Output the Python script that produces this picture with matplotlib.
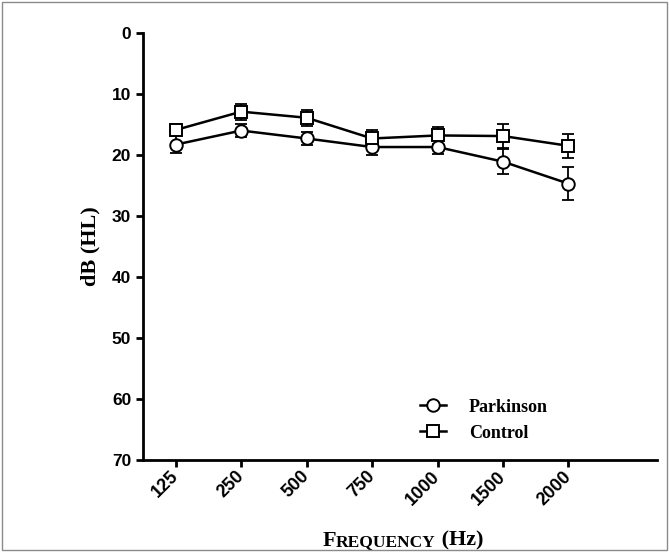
"""
Pure-tone audiometry: mean hearing threshold (dB HL) by frequency,
Parkinson vs Control, with SEM error bars.
"""

import matplotlib
matplotlib.use("Agg")
import matplotlib.pyplot as plt
from matplotlib.patches import Rectangle
from matplotlib.offsetbox import TextArea, HPacker, AnchoredOffsetbox

freq_labels = ["125", "250", "500", "750", "1000", "1500", "2000"]

parkinson_mean = [18.3, 16.0, 17.3, 18.7, 18.7, 21.1, 24.7]
parkinson_sem = [1.4, 1.1, 1.0, 1.3, 1.2, 2.0, 2.7]

control_mean = [15.9, 12.9, 13.9, 17.3, 16.8, 16.9, 18.5]
control_sem = [1.0, 1.3, 1.3, 1.4, 1.4, 1.9, 2.0]

SANS = "Liberation Sans"
SERIF = "Liberation Serif"


def draw_series(ax, x, mean, sem, marker, label):
    ax.errorbar(x, mean, yerr=sem, fmt="none", ecolor="black",
                elinewidth=1.3, capsize=4.5, capthick=1.3, zorder=2)
    ax.plot(x, mean, color="black", lw=1.8, marker=marker, ms=9,
            mfc="white", mec="black", mew=1.4, label=label, zorder=3)


def main():
    fig = plt.figure(figsize=(6.69, 5.52), dpi=100)
    ax = fig.add_axes([0.2138, 0.1667, 0.768, 0.7736])

    x = list(range(len(freq_labels)))
    draw_series(ax, x, parkinson_mean, parkinson_sem, "o", "Parkinson")
    draw_series(ax, x, control_mean, control_sem, "s", "Control")

    ax.set_xlim(-0.5, 7.35)
    ax.set_ylim(70, 0)
    ax.set_yticks(range(0, 71, 10))
    ax.set_xticks(x)
    ax.set_xticklabels(freq_labels, rotation=45, ha="right", va="center",
                       rotation_mode="anchor")

    for side in ("top", "right"):
        ax.spines[side].set_visible(False)
    for side in ("left", "bottom"):
        ax.spines[side].set_linewidth(2.0)
    ax.tick_params(width=2.0, length=5, labelsize=12.5)
    ax.tick_params(axis="x", pad=5, labelsize=13)
    for t in ax.get_xticklabels() + ax.get_yticklabels():
        t.set_fontfamily(SANS)
        t.set_fontweight("bold")

    ax.set_ylabel("dB (HL)", fontfamily=SERIF, fontweight="bold",
                  fontsize=16, labelpad=8)

    # small-caps style x label
    parts = [
        TextArea("F", textprops=dict(family=SERIF, weight="bold", size=16)),
        TextArea("REQUENCY", textprops=dict(family=SERIF, weight="bold", size=12.5)),
        TextArea(" (Hz)", textprops=dict(family=SERIF, weight="bold", size=16)),
    ]
    box = HPacker(children=parts, align="baseline", pad=0, sep=0)
    anchored = AnchoredOffsetbox(loc="center", child=box, frameon=False,
                                 bbox_to_anchor=(0.602, 0.02),
                                 bbox_transform=fig.transFigure)
    fig.add_artist(anchored)

    ax.legend(loc="lower right", bbox_to_anchor=(0.82, 0.005),
              frameon=False, handlelength=1.4, handletextpad=1.3,
              prop=dict(family=SERIF, weight="bold", size=13))

    # grey frame around the whole figure
    fig.add_artist(Rectangle((0.003, 0.003), 0.994, 0.994,
                             transform=fig.transFigure, fill=False,
                             edgecolor="#8a8a8a", lw=1.0))

    fig.savefig("out.png", dpi=100)


if __name__ == "__main__":
    main()
